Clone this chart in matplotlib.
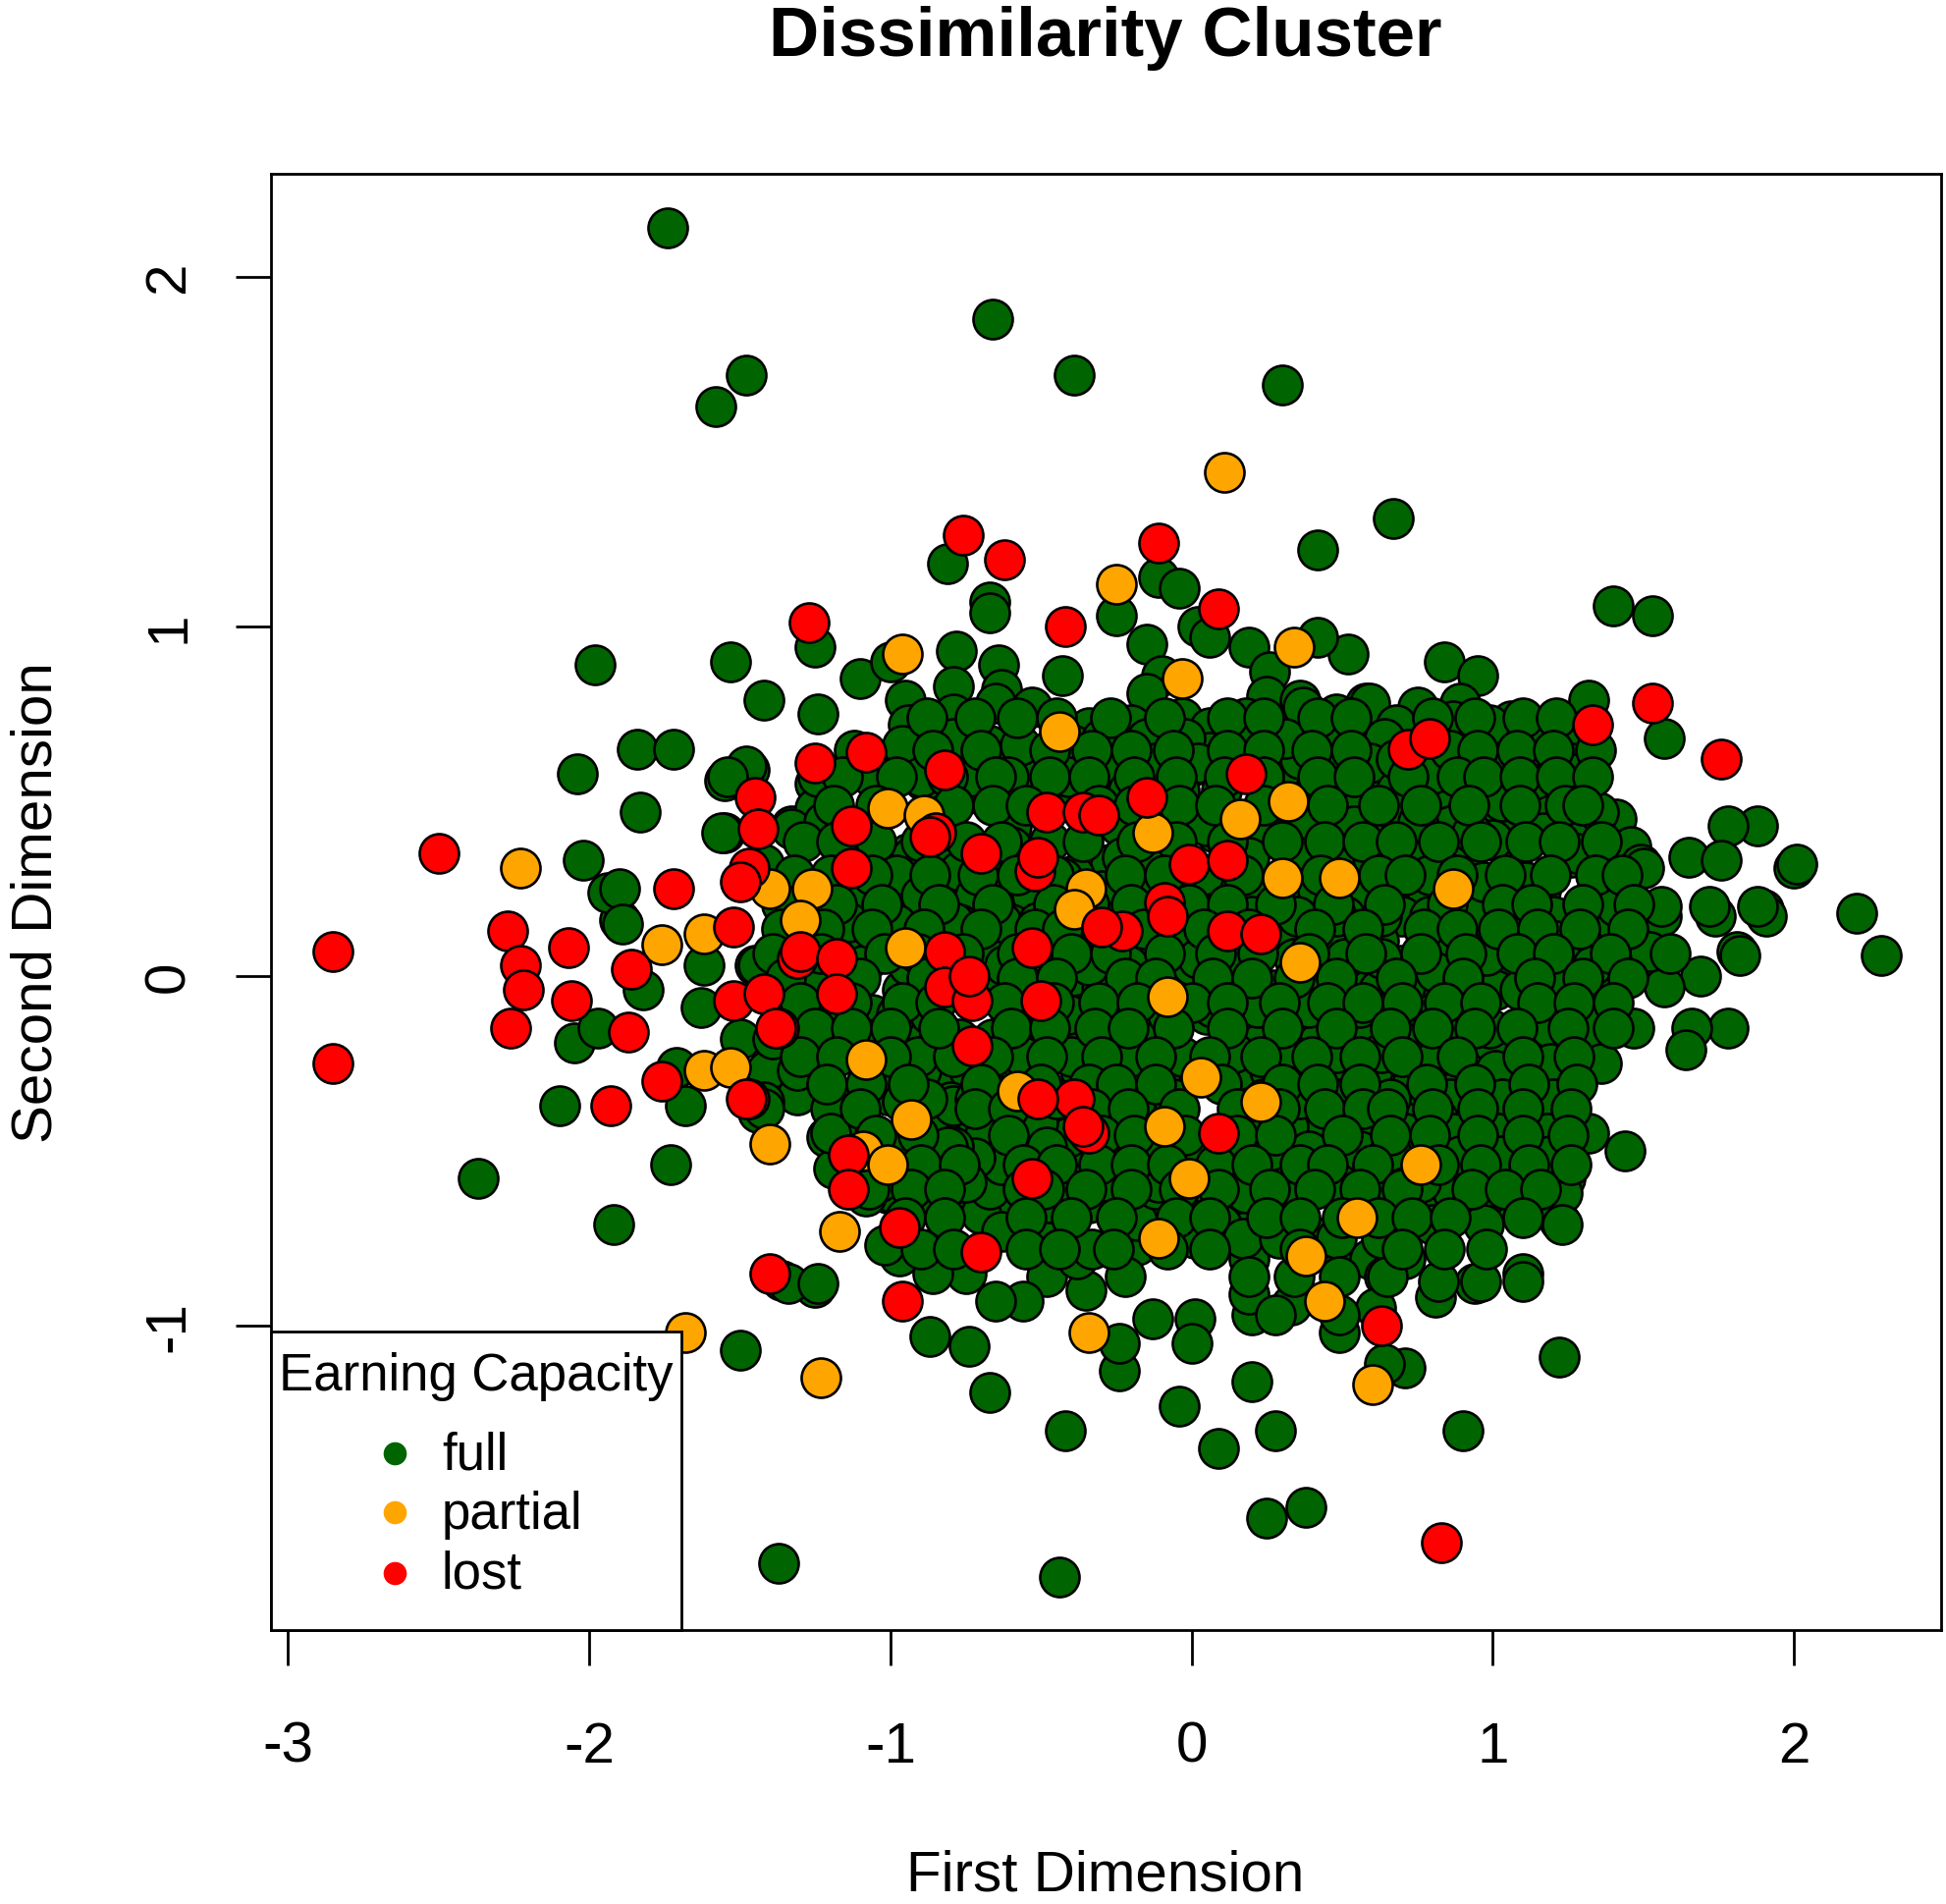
import matplotlib
matplotlib.use("Agg")
import matplotlib.pyplot as plt
from matplotlib.patches import Rectangle

plt.rcParams['font.family'] = ['Liberation Sans', 'DejaVu Sans']

# ---------------- data ----------------
categories = ["full", "partial", "lost"]
colors = {"full": "#006400", "partial": "#FFA500", "lost": "#FF0000"}
title = "Dissimilarity Cluster"
legend_title = "Earning Capacity"
xlabel = "First Dimension"
ylabel = "Second Dimension"
xticks = [-3, -2, -1, 0, 1, 2]
yticks = [-1, 0, 1, 2]

full_pts = [
    # periphery / outliers
    (-1.74, 2.14), (-0.66, 1.88), (-0.39, 1.72), (-1.48, 1.72), (-1.58, 1.63), (0.30, 1.69),
    (0.67, 1.31), (0.42, 1.22), (1.40, 1.06), (1.53, 1.03), (1.57, 0.68), (0.84, 0.90), (0.95, 0.86),
    (2.00, 0.31), (2.21, 0.18), (2.29, 0.06), (1.88, 0.43), (1.78, 0.43), (1.65, 0.34), (1.76, 0.33),
    (1.90, 0.19), (1.81, 0.07), (1.78, -0.15), (1.66, -0.15), (1.64, -0.21), (1.69, 0.00), (1.44, -0.50),
    (1.22, -1.09), (1.22, -0.70), (1.22, -0.61), (1.10, -0.85), (0.94, -0.88), (0.90, -1.30), (0.81, -0.92),
    (0.71, -1.12), (0.38, -1.52), (0.25, -1.55), (0.28, -1.30), (0.20, -1.16), (0.09, -1.35), (-0.04, -1.23),
    (-0.24, -1.13), (-0.42, -1.30), (-0.44, -1.72), (-1.37, -1.68), (-0.67, -1.19), (-0.74, -1.06), (-0.87, -1.03),
    (-1.25, -0.89), (-1.36, -0.87), (-1.50, -1.07), (-1.92, -0.71), (-2.37, -0.58), (-1.73, -0.54), (-2.10, -0.37),
    (-1.68, -0.37), (-2.05, -0.19), (-1.97, -0.15), (-1.82, -0.04), (-1.62, 0.03), (-1.90, 0.16), (-1.94, 0.24),
    (-2.02, 0.33), (-2.04, 0.58), (-1.83, 0.47), (-1.84, 0.65), (-1.72, 0.65), (-1.98, 0.89), (-1.53, 0.90),
    (-1.42, 0.79), (-1.55, 0.56), (-1.47, 0.59), (-1.55, 0.41), (-1.25, 0.94), (-1.24, 0.75), (-1.10, 0.85),
    (-0.81, 1.18), (-0.67, 1.07), (-0.67, 1.04), (-0.78, 0.93), (-0.64, 0.89), (-0.43, 0.86), (-0.25, 1.03),
    (-0.11, 1.14), (-0.04, 1.11), (-0.15, 0.95), (0.02, 1.00), (0.06, 0.97), (0.19, 0.94), (0.52, 0.92),
    (0.42, 0.97), (0.26, 0.87), (0.25, 0.80), (0.36, 0.79), (0.58, 0.78), (0.75, 0.77), (0.88, 0.74),
    (1.06, 0.73), (1.26, 0.72), (1.32, 0.79), (1.27, 0.58), (1.14, 0.66), (1.41, 0.45), (1.46, 0.37), (1.49, 0.32),
    # upper core
    (-1.00, 0.90), (-0.79, 0.83), (-0.10, 0.86), (-0.15, 0.81), (-0.95, 0.79), (-0.94, 0.72), (-0.79, 0.71),
    (-0.63, 0.82), (-0.53, 0.77), (-0.34, 0.71), (-0.79, 0.75), (-0.65, 0.78), (-0.20, 0.72), (-0.12, 0.67),
    (-0.03, 0.74), (0.06, 0.71), (0.18, 0.74), (0.26, 0.70), (0.37, 0.77), (0.48, 0.75), (0.59, 0.78), (0.68, 0.72),
    (-1.00, 0.59), (-0.89, 0.56), (-0.72, 0.58), (-0.70, 0.52), (-0.53, 0.60), (-0.41, 0.56), (-0.27, 0.60),
    (-0.11, 0.62), (0.00, 0.60), (0.06, 0.64), (0.30, 0.55), (0.36, 0.62), (0.48, 0.59), (0.59, 0.55), (0.54, 0.67),
    (-0.60, 0.43), (-0.24, 0.47), (-0.03, 0.43), (0.08, 0.41), (0.22, 0.39), (0.39, 0.44), (0.49, 0.41), (0.60, 0.39),
    (0.22, 0.25), (0.38, 0.25), (0.56, 0.25), (-0.41, 0.28), (-0.27, 0.32), (-0.15, 0.30), (-0.94, 0.35),
    (-0.79, 0.35), (-0.68, 0.34), (-1.06, 0.24), (-0.79, 0.24), (-0.65, 0.24), (-0.27, 0.24), (-0.15, 0.24),
    (0.05, 0.24), (0.68, 0.24),
    # left core
    (-1.48, 0.60), (-1.54, 0.57), (-1.56, 0.41), (-1.90, 0.25), (-1.89, 0.15), (-1.63, -0.09), (-1.45, 0.03),
    (-1.33, 0.43), (-1.25, 0.55), (-1.25, 0.48), (-1.06, 0.58), (-0.93, 0.60), (-0.73, 0.59), (-0.79, 0.68),
    (-0.59, 0.67), (-0.53, 0.57), (-0.41, 0.54), (-0.60, 0.37), (-0.39, 0.29), (-0.77, 0.30), (-0.93, 0.34),
    (-1.13, 0.31), (-1.14, 0.14), (-0.43, 0.28), (-0.48, 0.08), (-0.39, -0.09), (-0.61, 0.16), (-0.78, 0.16),
    (-0.98, 0.29), (-0.90, -0.09), (-0.96, -0.16), (-1.29, -0.17), (-1.50, -0.18), (-1.71, -0.26), (-1.41, -0.27),
    (-1.44, -0.39), (-1.31, -0.34), (-1.18, -0.36), (-1.18, -0.43), (-1.01, -0.34), (-1.01, -0.62), (-0.83, -0.28),
    (-0.87, -0.22), (-0.89, -0.43), (-0.76, -0.41), (-0.77, -0.50), (-0.66, -0.50), (-0.52, -0.50), (-0.63, -0.41),
    (-0.57, -0.32), (-0.66, -0.18), (-0.56, -0.18), (-0.44, -0.19), (-0.37, -0.43), (-0.47, -0.41), (-0.85, 0.06),
    (-0.96, 0.66), (-0.67, 0.66), (-0.57, 0.66), (-0.39, 0.66), (-1.24, 0.57), (-1.06, 0.57), (-0.90, 0.57),
    (-0.74, 0.57), (-0.61, 0.57), (-0.41, 0.57), (-1.11, 0.23), (-0.90, 0.23), (-0.72, 0.23), (-0.53, 0.23),
    (-1.15, 0.15), (-0.98, 0.15), (-0.77, 0.15), (-0.60, 0.15), (-0.39, 0.15), (-1.11, 0.06), (-0.67, 0.06),
    (-0.47, 0.06), (-1.24, -0.04), (-0.96, -0.04), (-0.65, -0.04), (-0.41, -0.04), (-1.22, -0.11), (-1.06, -0.11),
    (-0.54, -0.11), (-0.37, -0.11), (-1.39, -0.18), (-1.05, -0.18), (-0.77, -0.18), (-0.53, -0.18), (-1.31, -0.27),
    (-0.90, -0.27), (-0.74, -0.27), (-0.57, -0.27), (-0.37, -0.27), (-1.42, -0.36), (-1.15, -0.36), (-0.96, -0.36),
    (-0.80, -0.36), (-0.54, -0.36), (-0.43, -0.36), (-1.21, -0.46), (-0.96, -0.46), (-0.83, -0.46), (-0.69, -0.46),
    (-0.47, -0.46), (-1.19, -0.55), (-0.98, -0.55), (-0.85, -0.55), (-0.65, -0.55), (-0.38, -0.55), (-0.91, -0.64),
    (-0.74, -0.64), (-0.63, -0.64), (-0.43, -0.64), (-1.33, 0.42), (-1.42, 0.32), (-1.22, 0.44), (-1.34, -0.88),
    (-1.24, -0.88), (-1.44, 0.03), (-1.42, -0.38), (-1.20, -0.38), (-1.20, -0.45),
    # right core
    (-0.30, 0.68), (-0.15, 0.68), (-0.02, 0.68), (0.18, 0.68), (0.31, 0.68), (0.45, 0.68), (0.64, 0.68),
    (0.89, 0.68), (1.01, 0.68), (1.16, 0.68),
    (-0.25, 0.61), (-0.12, 0.61), (0.02, 0.61), (0.48, 0.61), (0.59, 0.61), (0.81, 0.61), (1.00, 0.61),
    (1.14, 0.61), (1.26, 0.61),
    (-0.21, 0.53), (-0.04, 0.53), (0.10, 0.53), (0.25, 0.53), (0.41, 0.53), (0.54, 0.53), (0.68, 0.53),
    (0.81, 0.53), (1.03, 0.53), (1.16, 0.53),
    (-0.24, 0.43), (0.05, 0.43), (0.23, 0.43), (0.36, 0.43), (0.54, 0.43), (0.70, 0.43), (0.86, 0.43),
    (1.01, 0.43), (1.18, 0.43), (1.26, 0.43),
    (-0.23, 0.34), (-0.12, 0.34), (0.19, 0.34), (0.36, 0.34), (0.49, 0.34), (0.60, 0.34), (0.75, 0.34),
    (0.91, 0.34), (1.06, 0.34), (1.26, 0.34),
    (-0.30, 0.245), (-0.17, 0.245), (0.07, 0.245), (0.20, 0.245), (0.42, 0.245), (0.58, 0.245), (0.78, 0.245),
    (0.99, 0.245), (1.16, 0.245),
    (0.05, 0.17), (0.33, 0.17), (0.51, 0.17), (0.70, 0.17), (0.93, 0.17), (1.09, 0.17), (1.20, 0.17),
    (-0.14, 0.10), (-0.01, 0.10), (0.14, 0.10), (0.32, 0.10), (0.45, 0.10), (0.62, 0.10), (0.84, 0.10),
    (0.97, 0.10), (1.21, 0.10),
    (-0.21, 0.03), (-0.04, 0.03), (0.15, 0.03), (0.54, 0.03), (0.70, 0.03), (0.82, 0.03), (1.02, 0.03),
    (1.17, 0.03), (1.26, 0.03),
    (-0.30, -0.04), (0.15, -0.04), (0.27, -0.04), (0.42, -0.04), (0.62, -0.04), (0.81, -0.04), (1.01, -0.04),
    (1.09, -0.04),
    (-0.25, -0.11), (0.05, -0.11), (0.21, -0.11), (0.36, -0.11), (0.50, -0.11), (0.75, -0.11), (0.89, -0.11),
    (1.21, -0.11),
    (-0.16, -0.19), (0.23, -0.19), (0.42, -0.19), (0.58, -0.19), (0.75, -0.19), (1.00, -0.19), (1.14, -0.19),
    (-0.30, -0.27), (-0.10, -0.27), (0.15, -0.27), (0.26, -0.27), (0.49, -0.27), (0.60, -0.27), (0.84, -0.27),
    (1.01, -0.27), (1.20, -0.27),
    (-0.21, -0.35), (0.36, -0.35), (0.49, -0.35), (0.70, -0.35), (0.86, -0.35), (1.08, -0.35),
    (-0.26, -0.41), (-0.12, -0.41), (0.25, -0.41), (0.38, -0.41), (0.58, -0.41), (0.75, -0.41), (0.82, -0.41),
    (1.00, -0.41), (1.19, -0.41),
    (-0.27, -0.50), (-0.07, -0.50), (0.19, -0.50), (0.34, -0.50), (0.51, -0.50), (0.69, -0.50), (0.84, -0.50),
    (0.95, -0.50), (1.13, -0.50),
    (-0.17, -0.58), (0.12, -0.58), (0.25, -0.58), (0.45, -0.58), (0.61, -0.58), (0.81, -0.58), (0.90, -0.58),
    (1.06, -0.58), (1.24, -0.58),
    (-0.07, -0.645), (0.19, -0.645), (0.34, -0.645), (0.67, -0.645), (0.80, -0.645), (1.02, -0.645), (1.19, -0.645),
    # far right core
    (0.79, 0.17), (0.93, 0.17), (1.38, 0.17), (1.56, 0.17), (1.74, 0.17), (1.91, 0.17),
    (0.85, 0.06), (0.98, 0.06), (1.24, 0.06), (1.50, 0.06), (1.82, 0.06),
    (0.71, -0.03), (1.22, -0.03), (1.37, -0.03), (1.57, -0.03),
    (0.87, -0.15), (0.99, -0.15), (1.19, -0.15), (1.33, -0.15), (1.47, -0.15),
    (0.79, -0.25), (1.19, -0.25), (1.36, -0.25),
    (0.75, -0.35), (1.03, -0.35), (1.20, -0.35),
    (0.71, -0.45), (0.87, -0.45), (1.02, -0.45), (1.18, -0.45), (1.32, -0.45),
    (0.75, -0.515), (0.89, -0.515), (1.03, -0.515), (1.19, -0.515),
    (0.76, -0.62), (0.87, -0.62), (0.99, -0.62), (1.09, -0.62), (1.23, -0.62),
    (0.80, -0.71), (0.97, -0.71), (1.23, -0.71), (0.71, -0.81), (0.82, -0.875), (0.96, -0.875), (1.10, -0.875),
    (1.52, 0.07), (1.41, 0.15), (1.33, 0.03), (0.76, -0.59), (0.73, -0.31), (0.81, 0.01),
    # upper right core
    (0.89, 0.78), (0.87, 0.73), (0.99, 0.72), (1.15, 0.66), (1.01, 0.58), (0.80, 0.58), (1.28, 0.58),
    (1.14, 0.54), (0.69, 0.48), (1.03, 0.50), (1.19, 0.46), (1.35, 0.47), (1.00, 0.39), (0.93, 0.41),
    (0.79, 0.29), (0.75, 0.44), (0.68, 0.62), (1.17, 0.41), (1.28, 0.35), (1.11, 0.27), (0.97, 0.27),
    (1.41, 0.20), (1.56, 0.20), (1.72, 0.20), (1.88, 0.20), (2.01, 0.32), (1.50, 0.31),
    # lower core
    (-0.97, -0.80), (-0.24, -1.05), (-0.13, -0.98), (0.01, -0.98), (0.00, -1.05), (0.20, -0.97), (0.19, -0.91),
    (0.33, -0.94), (0.49, -1.02), (0.64, -1.11), (0.48, -0.81), (0.59, -0.81), (0.43, -0.75), (0.18, -0.73),
    (0.19, -0.81), (0.10, -0.71), (0.01, -0.75), (0.01, -0.66), (-0.18, -0.77), (-0.22, -0.86), (-0.35, -0.90),
    (-0.48, -0.86), (-0.56, -0.93), (-0.65, -0.93), (-0.75, -0.85), (-0.86, -0.85), (-0.79, -0.66), (-0.70, -0.68),
    (-0.63, -0.73), (-0.47, -0.73), (-0.38, -0.81), (-0.33, -0.78), (-0.67, -0.61), (-0.47, -0.65), (-0.34, -0.65),
    (-0.18, -0.70), (-0.12, -0.61), (-0.12, -0.50), (0.02, -0.57), (0.17, -0.52), (0.18, -0.61), (0.31, -0.59),
    (0.26, -0.54), (0.40, -0.49), (0.51, -0.59), (0.64, -0.86), (0.61, -0.95), (0.69, -0.63), (0.52, -0.54),
    (0.60, -0.42), (0.43, -0.41), (0.32, -0.43), (0.22, -0.43), (-0.16, -0.38), (-0.27, -0.38), (-0.41, -0.46),
    (-0.51, -0.42), (-0.63, -0.54), (-0.72, -0.52), (-0.77, -0.59), (-0.88, -0.65), (-0.99, -0.62), (-1.02, -0.77),
    (-1.08, -0.63), (-0.79, -0.49), (-0.86, -0.39), (-0.79, -0.37), (-0.65, -0.34),
    (-1.14, 0.155), (-0.79, 0.155), (-0.63, 0.155), (-0.51, 0.155), (-0.27, 0.155), (-0.12, 0.155),
    (-1.09, 0.03), (-0.94, 0.03), (-0.62, 0.03), (-0.44, 0.03), (-0.34, 0.03), (0.00, 0.03),
    (-0.98, -0.11), (-0.87, -0.11), (-0.60, -0.11), (-0.41, -0.11), (-0.27, -0.11), (-0.08, -0.11),
    (-0.91, -0.23), (-0.79, -0.23), (-0.56, -0.23), (-0.40, -0.23), (-0.20, -0.23), (-0.03, -0.23),
    (-0.88, -0.35), (-0.72, -0.35), (-0.58, -0.35), (-0.45, -0.35), (-0.18, -0.35), (-0.06, -0.35),
    (-0.98, -0.49), (-0.81, -0.49), (-0.48, -0.49), (-0.27, -0.49), (-0.15, -0.49), (0.02, -0.49),
    (-1.04, -0.59), (-0.75, -0.59), (-0.41, -0.59), (-0.27, -0.59), (-0.11, -0.59), (0.04, -0.59),
    (0.08, 0.17), (0.20, 0.17), (0.35, 0.17), (0.48, 0.17), (0.63, 0.17),
    (0.02, 0.05), (0.17, 0.05), (0.34, 0.05), (0.51, 0.05), (0.63, 0.05),
    (0.07, -0.09), (0.22, -0.09), (0.39, -0.09), (0.56, -0.09), (0.68, -0.09),
    (0.14, -0.22), (0.32, -0.22), (0.48, -0.22), (0.63, -0.22),
    (0.24, -0.35), (0.36, -0.35), (0.51, -0.35), (0.66, -0.35),
    (0.12, -0.50), (0.26, -0.50), (0.39, -0.50), (0.56, -0.50), (0.66, -0.50),
    (0.18, -0.62), (0.34, -0.62), (0.49, -0.62), (0.64, -0.62),
    (0.17, -0.75), (0.29, -0.75), (0.48, -0.75), (0.63, -0.75),
    (0.19, -0.86), (0.34, -0.86), (0.49, -0.86), (0.65, -0.86),
    (0.28, -0.97), (0.49, -0.97),
    # dense core, in-between circles
    (-0.88, 0.74), (-0.72, 0.74), (-0.58, 0.74), (-0.45, 0.74), (-0.27, 0.74), (-0.09, 0.74), (0.12, 0.74),
    (0.24, 0.74), (0.42, 0.74), (0.53, 0.74), (0.80, 0.74), (0.94, 0.74), (1.10, 0.74), (1.21, 0.74),
    (-1.12, 0.645), (-0.86, 0.645), (-0.70, 0.645), (-0.47, 0.645), (-0.33, 0.645), (-0.20, 0.645), (-0.06, 0.645),
    (0.12, 0.645), (0.24, 0.645), (0.40, 0.645), (0.53, 0.645), (0.86, 0.645), (0.95, 0.645), (1.08, 0.645),
    (1.20, 0.645), (1.34, 0.645),
    (-1.16, 0.57), (-0.98, 0.57), (-0.81, 0.57), (-0.65, 0.57), (-0.47, 0.57), (-0.34, 0.57), (-0.19, 0.57),
    (-0.05, 0.57), (0.11, 0.57), (0.24, 0.57), (0.42, 0.57), (0.54, 0.57), (0.72, 0.57), (0.88, 0.57),
    (0.97, 0.57), (1.09, 0.57), (1.21, 0.57), (1.33, 0.57),
    (-1.19, 0.49), (-1.05, 0.49), (-0.79, 0.49), (-0.66, 0.49), (-0.55, 0.49), (-0.31, 0.49), (-0.19, 0.49),
    (-0.04, 0.49), (0.08, 0.49), (0.24, 0.49), (0.45, 0.49), (0.62, 0.49), (0.76, 0.49), (0.92, 0.49),
    (1.09, 0.49), (1.24, 0.49), (1.30, 0.49),
    (-1.29, 0.385), (-1.18, 0.385), (-1.05, 0.385), (-0.90, 0.385), (-0.75, 0.385), (-0.63, 0.385), (-0.47, 0.385),
    (-0.36, 0.385), (-0.18, 0.385), (-0.05, 0.385), (0.12, 0.385), (0.30, 0.385), (0.44, 0.385), (0.57, 0.385),
    (0.68, 0.385), (0.82, 0.385), (0.96, 0.385), (1.11, 0.385), (1.22, 0.385), (1.36, 0.385),
    (-1.32, 0.29), (-1.20, 0.29), (-1.06, 0.29), (-0.87, 0.29), (-0.71, 0.29), (-0.58, 0.29), (-0.46, 0.29),
    (-0.22, 0.29), (-0.09, 0.29), (0.04, 0.29), (0.17, 0.29), (0.43, 0.29), (0.62, 0.29), (0.71, 0.29),
    (0.88, 0.29), (1.04, 0.29), (1.19, 0.29), (1.34, 0.29), (1.43, 0.29),
    (-1.36, 0.205), (-1.18, 0.205), (-1.03, 0.205), (-0.84, 0.205), (-0.66, 0.205), (-0.46, 0.205), (-0.34, 0.205),
    (-0.20, 0.205), (-0.01, 0.205), (0.12, 0.205), (0.28, 0.205), (0.47, 0.205), (0.64, 0.205), (0.85, 0.205),
    (1.03, 0.205), (1.13, 0.205), (1.30, 0.205), (1.47, 0.205),
    (-1.36, 0.135), (-1.22, 0.135), (-1.06, 0.135), (-0.89, 0.135), (-0.70, 0.135), (-0.52, 0.135), (-0.43, 0.135),
    (-0.16, 0.135), (0.04, 0.135), (0.19, 0.135), (0.41, 0.135), (0.57, 0.135), (0.77, 0.135), (0.88, 0.135),
    (1.02, 0.135), (1.15, 0.135), (1.29, 0.135), (1.45, 0.135),
    (-1.39, 0.065), (-1.23, 0.065), (-1.02, 0.065), (-0.91, 0.065), (-0.76, 0.065), (-0.58, 0.065), (-0.40, 0.065),
    (-0.27, 0.065), (-0.09, 0.065), (0.08, 0.065), (0.22, 0.065), (0.39, 0.065), (0.58, 0.065), (0.76, 0.065),
    (0.91, 0.065), (1.08, 0.065), (1.20, 0.065), (1.39, 0.065), (1.59, 0.065),
    (-1.35, -0.005), (-1.10, -0.005), (-0.88, -0.005), (-0.58, -0.005), (-0.45, -0.005), (-0.22, -0.005),
    (-0.12, -0.005), (0.07, -0.005), (0.20, -0.005), (0.34, -0.005), (0.48, -0.005), (0.68, -0.005),
    (0.90, -0.005), (1.14, -0.005), (1.30, -0.005), (1.45, -0.005),
    (-1.30, -0.075), (-1.13, -0.075), (-0.96, -0.075), (-0.85, -0.075), (-0.62, -0.075), (-0.46, -0.075),
    (-0.31, -0.075), (-0.18, -0.075), (0.00, -0.075), (0.12, -0.075), (0.29, -0.075), (0.45, -0.075),
    (0.57, -0.075), (0.70, -0.075), (0.84, -0.075), (0.96, -0.075), (1.15, -0.075), (1.27, -0.075), (1.40, -0.075),
    (-1.25, -0.15), (-1.13, -0.15), (-1.00, -0.15), (-0.84, -0.15), (-0.60, -0.15), (-0.47, -0.15), (-0.32, -0.15),
    (-0.21, -0.15), (-0.06, -0.15), (0.12, -0.15), (0.30, -0.15), (0.48, -0.15), (0.66, -0.15), (0.80, -0.15),
    (0.94, -0.15), (1.08, -0.15), (1.25, -0.15), (1.40, -0.15),
    (-1.30, -0.23), (-1.18, -0.23), (-1.00, -0.23), (-0.66, -0.23), (-0.48, -0.23), (-0.30, -0.23), (-0.12, -0.23),
    (0.06, -0.23), (0.23, -0.23), (0.40, -0.23), (0.56, -0.23), (0.70, -0.23), (0.88, -0.23), (1.10, -0.23),
    (1.27, -0.23),
    (-1.21, -0.31), (-1.08, -0.31), (-0.94, -0.31), (-0.70, -0.31), (-0.50, -0.31), (-0.34, -0.31), (-0.25, -0.31),
    (-0.12, -0.31), (0.10, -0.31), (0.30, -0.31), (0.42, -0.31), (0.56, -0.31), (0.78, -0.31), (0.94, -0.31),
    (1.12, -0.31), (1.28, -0.31),
    (-1.10, -0.38), (-0.72, -0.38), (-0.61, -0.38), (-0.33, -0.38), (-0.21, -0.38), (-0.04, -0.38), (0.15, -0.38),
    (0.29, -0.38), (0.44, -0.38), (0.57, -0.38), (0.65, -0.38), (0.80, -0.38), (0.95, -0.38), (1.10, -0.38),
    (1.26, -0.38),
    (-1.05, -0.455), (-0.91, -0.455), (-0.61, -0.455), (-0.30, -0.455), (-0.19, -0.455), (-0.02, -0.455),
    (0.15, -0.455), (0.28, -0.455), (0.50, -0.455), (0.66, -0.455), (0.79, -0.455), (0.95, -0.455),
    (1.10, -0.455), (1.25, -0.455),
    (-1.08, -0.54), (-0.90, -0.54), (-0.77, -0.54), (-0.56, -0.54), (-0.45, -0.54), (-0.31, -0.54), (-0.20, -0.54),
    (-0.08, -0.54), (0.08, -0.54), (0.20, -0.54), (0.36, -0.54), (0.45, -0.54), (0.60, -0.54), (0.82, -0.54),
    (0.96, -0.54), (1.12, -0.54), (1.26, -0.54),
    (-1.07, -0.61), (-0.93, -0.61), (-0.82, -0.61), (-0.56, -0.61), (-0.49, -0.61), (-0.35, -0.61), (-0.20, -0.61),
    (-0.04, -0.61), (0.09, -0.61), (0.26, -0.61), (0.41, -0.61), (0.56, -0.61), (0.70, -0.61), (0.93, -0.61),
    (1.04, -0.61), (1.16, -0.61),
    (-0.95, -0.69), (-0.82, -0.69), (-0.55, -0.69), (-0.40, -0.69), (-0.25, -0.69), (-0.05, -0.69), (0.06, -0.69),
    (0.25, -0.69), (0.36, -0.69), (0.50, -0.69), (0.62, -0.69), (0.73, -0.69), (0.86, -0.69), (1.10, -0.69),
    (-0.90, -0.78), (-0.79, -0.78), (-0.55, -0.78), (-0.44, -0.78), (-0.26, -0.78), (-0.08, -0.78), (0.06, -0.78),
    (0.36, -0.78), (0.70, -0.78), (0.84, -0.78), (0.98, -0.78),
]

partial_pts = [
    (0.11, 1.44), (-0.25, 1.12), (-2.23, 0.31), (-1.76, 0.09), (-1.62, 0.12), (-1.62, -0.27), (-1.53, -0.26),
    (-1.40, -0.48), (-1.08, -0.24), (-0.93, -0.41), (-1.17, -0.73), (-1.23, -1.15), (-1.68, -1.02),
    (-1.26, 0.25), (-1.40, 0.25), (-1.30, 0.16), (-1.01, 0.48), (-0.89, 0.46), (-0.95, 0.08), (-0.96, 0.92),
    (-0.44, 0.70), (-0.03, 0.85), (0.34, 0.94), (0.16, 0.45), (0.32, 0.50), (0.36, 0.04), (0.87, 0.25),
    (0.30, 0.28), (0.49, 0.28), (-0.34, -1.02), (-0.11, -0.75), (0.38, -0.80), (0.44, -0.93), (0.55, -0.69),
    (0.60, -1.17), (0.03, -0.29), (0.76, -0.54), (-0.58, -0.33), (-0.13, 0.41), (-0.08, -0.06), (-0.09, -0.43),
    (0.23, -0.36), (-0.01, -0.58), (-1.09, -0.50), (-1.01, -0.54), (-0.35, 0.25), (-0.39, 0.19),
]

lost_pts = [
    (-2.85, 0.07), (-2.85, -0.25), (-2.50, 0.35), (-2.27, 0.13), (-2.23, 0.03), (-2.22, -0.04), (-2.26, -0.15),
    (-2.07, 0.08), (-2.06, -0.07), (-1.87, -0.16), (-1.86, 0.02), (-1.93, -0.37), (-1.72, 0.25), (-1.76, -0.30),
    (-1.52, 0.14), (-1.52, -0.07), (-1.42, -0.05), (-1.31, 0.05), (-1.37, -0.15), (-1.47, -0.35), (-1.14, -0.51),
    (-1.14, -0.61), (-1.40, -0.85), (-1.27, 1.01), (-1.25, 0.61), (-1.45, 0.51), (-1.44, 0.42), (-1.47, 0.31),
    (-1.50, 0.27), (-1.13, 0.43), (-1.08, 0.64), (-0.85, 0.41), (-0.48, 0.47), (-0.36, 0.47), (-0.52, 0.30),
    (-1.30, 0.07), (-1.18, 0.05), (-0.82, 0.07), (-0.82, -0.03), (-0.73, -0.07), (-0.50, -0.07), (-0.73, -0.20),
    (-0.53, 0.08), (-1.18, -0.05), (-1.38, -0.15), (-1.48, -0.35), (-0.53, -0.58), (-0.39, -0.35), (-0.74, 0.00),
    (-0.76, 1.26), (-0.62, 1.19), (-0.11, 1.24), (-0.42, 1.00), (0.09, 1.05), (-0.82, 0.59), (-0.15, 0.51),
    (0.18, 0.58), (-0.87, 0.40), (-0.01, 0.32), (0.12, 0.33), (-0.51, 0.34), (-0.09, 0.21), (-1.13, 0.31),
    (-0.70, 0.35), (0.72, 0.65), (0.79, 0.68), (-0.31, 0.46), (-0.08, 0.17), (-0.23, 0.13), (-0.30, 0.14),
    (0.12, 0.13), (0.23, 0.12), (0.09, -0.45), (-0.34, -0.45), (1.53, 0.78), (1.76, 0.62), (1.33, 0.72),
    (0.83, -1.62), (-0.96, -0.93), (-0.97, -0.72), (0.63, -1.00), (-0.70, -0.79), (-0.36, -0.43), (-0.51, -0.35),
]

# ---------------- figure ----------------
W, H = 1983, 1940
fig = plt.figure(figsize=(W / 100, H / 100), dpi=100)
ax_l, ax_r, ax_t, ax_b = 276, 1977, 178, 1661
ax = fig.add_axes([ax_l / W, 1 - ax_b / H, (ax_r - ax_l) / W, (ax_b - ax_t) / H])

groups = [("full", full_pts), ("partial", partial_pts), ("lost", lost_pts)]
for name, pts in groups:
    xs = [p[0] for p in pts]
    ys = [p[1] for p in pts]
    ax.scatter(xs, ys, s=830, c=colors[name], edgecolors="black", linewidths=1.9, zorder=3)

ax.set_xlim(-3.057, 2.489)
ax.set_ylim(-1.871, 2.295)
ax.set_xticks(xticks)
ax.set_yticks(yticks)
ax.set_xticklabels([str(t) for t in xticks])
ax.set_yticklabels([str(t) for t in yticks])
for sp in ax.spines.values():
    sp.set_linewidth(2.0)
ax.tick_params(axis="both", direction="out", length=26, width=2.0, labelsize=42)
ax.tick_params(axis="x", pad=40)
ax.tick_params(axis="y", pad=29)
for lab in ax.get_yticklabels():
    lab.set_rotation(90)
    lab.set_va("center")
    lab.set_ha("right")

# legend (R-style box in the lower-left corner)
aw, ah = ax_r - ax_l, ax_b - ax_t
def axx(px):
    return (px - ax_l) / aw
def axy(py):
    return (ax_b - py) / ah

ax.add_patch(Rectangle((0, 0), axx(694), axy(1357), transform=ax.transAxes, facecolor="white",
                       edgecolor="black", linewidth=2.0, zorder=10, clip_on=False))
ax.text(axx(485), axy(1416), legend_title, transform=ax.transAxes, ha="center", va="baseline",
        fontsize=38, zorder=11)
row_mark = [1481, 1541, 1603]
row_base = [1497, 1557, 1618]
for name, ym, yb in zip(categories, row_mark, row_base):
    ax.plot([axx(402)], [axy(ym)], marker="o", markersize=17, color=colors[name], markeredgewidth=0,
            transform=ax.transAxes, zorder=11, clip_on=False, linestyle="none")
    ax.text(axx(450), axy(yb), name, transform=ax.transAxes, ha="left", va="baseline",
            fontsize=38, zorder=11)

# titles and axis labels
fig.text(1126 / W, 1 - 57 / H, title, ha="center", va="baseline", fontsize=51, fontweight="bold")
fig.text(1126 / W, 1 - 1926 / H, xlabel, ha="center", va="baseline", fontsize=42)
fig.text(53 / W, 1 - 919 / H, ylabel, ha="center", va="baseline", fontsize=42, rotation=90,
         rotation_mode="anchor")

fig.savefig("out.png", dpi=100)
